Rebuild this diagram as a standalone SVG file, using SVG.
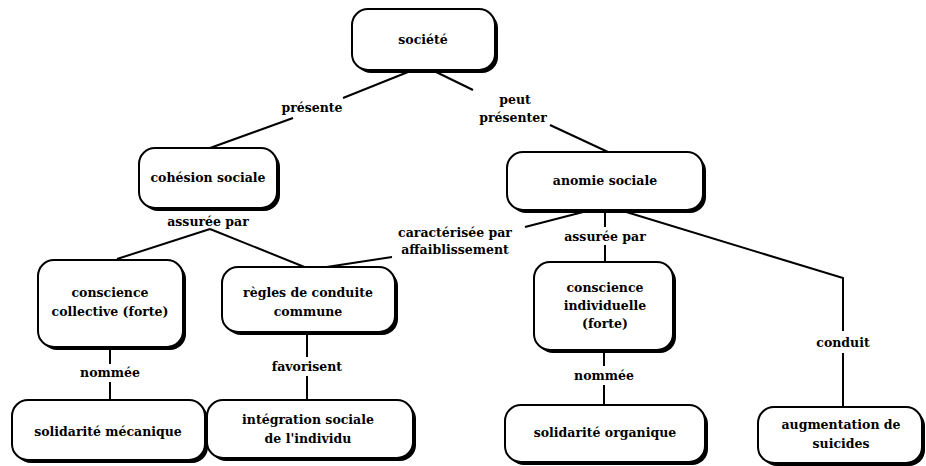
<svg xmlns="http://www.w3.org/2000/svg" width="926" height="466" viewBox="0 0 926 466">
<style>
.sh{fill:#000}
.bx{fill:#fff;stroke:#000;stroke-width:2}
text{font-family:"DejaVu Serif","Liberation Serif",serif;font-weight:bold;font-size:12.5px;fill:#000;text-anchor:middle}
.ln{stroke:#000;stroke-width:2;fill:none}
</style>
<rect width="926" height="466" fill="#fff"/>
<g id="connectors">
<path class="ln" d="M413,70 L343,98"/>
<path class="ln" d="M293,118 L210,148"/>
<path class="ln" d="M432,70 L473,90"/>
<path class="ln" d="M550,125 L608,152"/>
<path class="ln" d="M210,229 L117,259"/>
<path class="ln" d="M210,229 L307,268"/>
<path class="ln" d="M392,257 L307,270"/>
<path class="ln" d="M587,211 L525,227"/>
<path class="ln" d="M605,210 L605,227 M605,245 L605,262"/>
<path class="ln" d="M623,211 L843,278 L843,331 M843,353 L843,407"/>
<path class="ln" d="M110,347 L110,364 M110,382 L110,400"/>
<path class="ln" d="M307,332 L307,357 M307,376 L307,400"/>
<path class="ln" d="M604,350 L604,366 M604,385 L604,405"/>
<text x="312" y="112">présente</text>
<text x="515" y="104">peut</text>
<text x="513" y="122">présenter</text>
<text x="208" y="226">assurée par</text>
<text x="455" y="237">caractérisée par</text>
<text x="455" y="254">affaiblissement</text>
<text x="605" y="241">assurée par</text>
<text x="843" y="347">conduit</text>
<text x="110" y="377">nommée</text>
<text x="307" y="371">favorisent</text>
<text x="604" y="380">nommée</text>
</g>
<g id="societe">
<rect class="sh" x="355" y="12" width="143" height="61" rx="16"/>
<rect class="bx" x="352" y="9" width="143" height="61" rx="16"/>
<text x="423" y="44">société</text>
</g>
<g id="cohesion">
<rect class="sh" x="142" y="151" width="138" height="60" rx="16"/>
<rect class="bx" x="139" y="148" width="138" height="60" rx="16"/>
<text x="208" y="182">cohésion sociale</text>
</g>
<g id="anomie">
<rect class="sh" x="510" y="155" width="196" height="58" rx="16"/>
<rect class="bx" x="507" y="152" width="196" height="58" rx="16"/>
<text x="605" y="185">anomie sociale</text>
</g>
<g id="conscience-collective">
<rect class="sh" x="41" y="263" width="145" height="87" rx="16"/>
<rect class="bx" x="38" y="260" width="145" height="87" rx="16"/>
<text x="110" y="297">conscience</text>
<text x="110" y="316">collective (forte)</text>
</g>
<g id="regles">
<rect class="sh" x="225" y="270" width="173" height="65" rx="16"/>
<rect class="bx" x="222" y="267" width="173" height="65" rx="16"/>
<text x="308" y="297">règles de conduite</text>
<text x="308" y="316">commune</text>
</g>
<g id="conscience-individuelle">
<rect class="sh" x="537" y="265" width="139" height="88" rx="16"/>
<rect class="bx" x="534" y="262" width="139" height="88" rx="16"/>
<text x="605" y="292">conscience</text>
<text x="605" y="310">individuelle</text>
<text x="605" y="328">(forte)</text>
</g>
<g id="solidarite-mecanique">
<rect class="sh" x="15" y="403" width="193" height="60" rx="16"/>
<rect class="bx" x="12" y="400" width="193" height="60" rx="16"/>
<text x="108" y="436">solidarité mécanique</text>
</g>
<g id="integration">
<rect class="sh" x="210" y="403" width="206" height="58" rx="16"/>
<rect class="bx" x="207" y="400" width="206" height="58" rx="16"/>
<text x="308" y="424">intégration sociale</text>
<text x="308" y="443">de l'individu</text>
</g>
<g id="solidarite-organique">
<rect class="sh" x="508" y="408" width="200" height="57" rx="16"/>
<rect class="bx" x="505" y="405" width="200" height="57" rx="16"/>
<text x="605" y="437">solidarité organique</text>
</g>
<g id="augmentation">
<rect class="sh" x="761" y="410" width="164" height="56" rx="16"/>
<rect class="bx" x="758" y="407" width="164" height="56" rx="16"/>
<text x="841" y="429">augmentation de</text>
<text x="841" y="448">suicides</text>
</g>
</svg>
